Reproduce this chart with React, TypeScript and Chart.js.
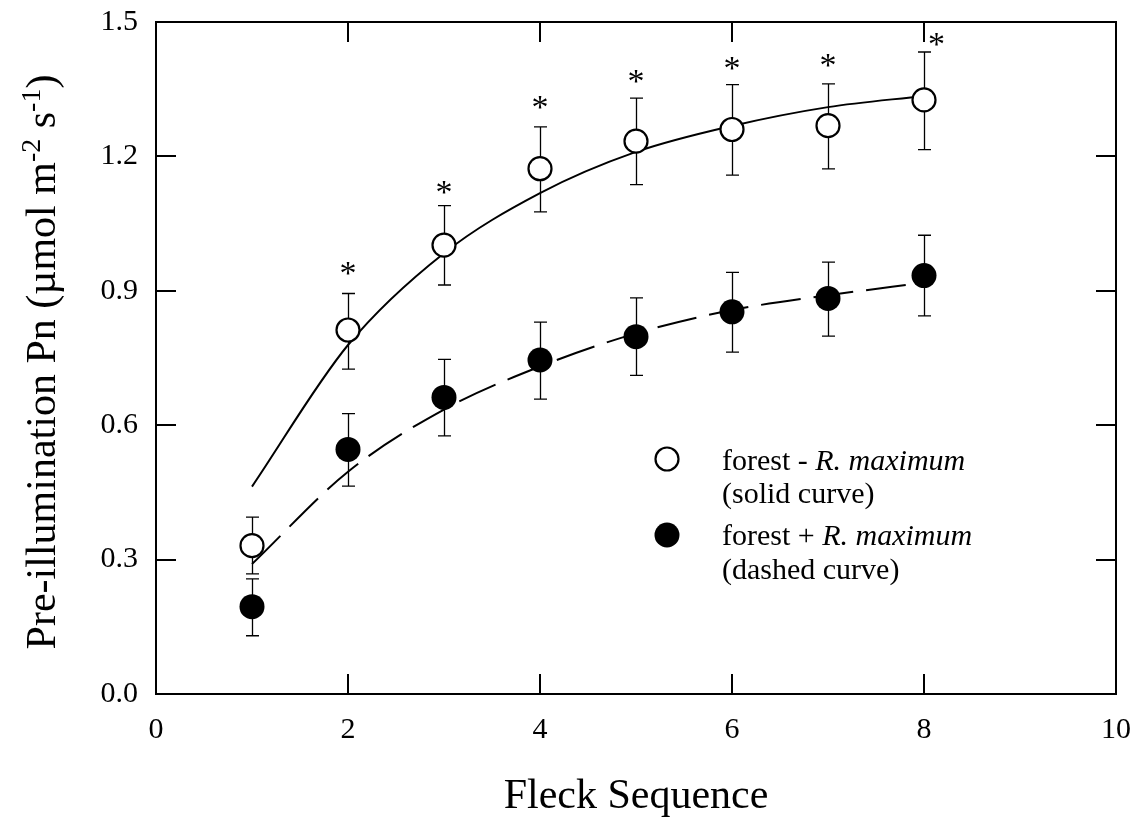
import React, { useEffect, useRef } from 'react';
import { Chart, registerables } from 'chart.js';

Chart.register(...registerables);

// ---- data ----
const fleck = [1, 2, 3, 4, 5, 6, 7, 8];

// forest - R. maximum (open circles)
const withoutR = [0.331, 0.8125, 1.002, 1.1725, 1.234, 1.26, 1.2685, 1.326];
const withoutRUpper = [0.395, 0.894, 1.09, 1.266, 1.33, 1.36, 1.362, 1.433];
const withoutRLower = [0.268, 0.725, 0.913, 1.076, 1.137, 1.158, 1.172, 1.215];

// forest + R. maximum (filled circles)
const withR = [0.195, 0.546, 0.662, 0.7455, 0.7976, 0.853, 0.883, 0.934];
const withRUpper = [0.257, 0.626, 0.747, 0.83, 0.884, 0.941, 0.964, 1.024];
const withRLower = [0.13, 0.464, 0.576, 0.658, 0.711, 0.763, 0.799, 0.844];

// fitted curves at each fleck
const solidCurve = [0.463, 0.779, 0.984, 1.118, 1.21, 1.268, 1.31, 1.335];
const dashedCurve = [0.29, 0.496, 0.635, 0.731, 0.805, 0.857, 0.89, 0.918];

// significance asterisks
const starX = [2, 3, 4, 5, 6, 7, 8.13];
const starY = [0.95, 1.132, 1.322, 1.379, 1.408, 1.415, 1.463];

// axis ticks
const xTicks = [0, 2, 4, 6, 8, 10];
const yTicks = [0, 0.3, 0.6, 0.9, 1.2, 1.5];

const FONT = "'Liberation Serif', 'Times New Roman', serif";

const zeroPad = (s: any) => {
  s.paddingTop = 0;
  s.paddingBottom = 0;
  s.paddingLeft = 0;
  s.paddingRight = 0;
};

const decor = {
  id: 'decor',
  beforeDatasetsDraw(chart: any) {
    const { ctx, scales } = chart;
    const xs = scales.x;
    const ys = scales.y;
    ctx.save();
    ctx.strokeStyle = '#000';
    ctx.lineWidth = 1.3;
    const bars = (vals: number[], lo: number[], hi: number[]) => {
      vals.forEach((_, i) => {
        const px = Math.round(xs.getPixelForValue(fleck[i])) + 0.5;
        const yTop = ys.getPixelForValue(hi[i]);
        const yBot = ys.getPixelForValue(lo[i]);
        ctx.beginPath();
        ctx.moveTo(px, yTop);
        ctx.lineTo(px, yBot);
        ctx.moveTo(px - 6.5, yTop);
        ctx.lineTo(px + 6.5, yTop);
        ctx.moveTo(px - 6.5, yBot);
        ctx.lineTo(px + 6.5, yBot);
        ctx.stroke();
      });
    };
    bars(withoutR, withoutRLower, withoutRUpper);
    bars(withR, withRLower, withRUpper);
    ctx.restore();
  },
  afterDraw(chart: any) {
    const { ctx, chartArea, scales } = chart;
    const xs = scales.x;
    const ys = scales.y;
    const { left, right, top, bottom } = chartArea;
    ctx.save();
    // frame
    ctx.strokeStyle = '#000';
    ctx.lineWidth = 2;
    ctx.strokeRect(left, top, right - left, bottom - top);
    // inward ticks on all four sides
    const TL = 20;
    ctx.beginPath();
    xTicks.slice(1, -1).forEach((v) => {
      const px = Math.round(xs.getPixelForValue(v));
      ctx.moveTo(px, bottom);
      ctx.lineTo(px, bottom - TL);
      ctx.moveTo(px, top);
      ctx.lineTo(px, top + TL);
    });
    yTicks.slice(1, -1).forEach((v) => {
      const py = Math.round(ys.getPixelForValue(v));
      ctx.moveTo(left, py);
      ctx.lineTo(left + TL, py);
      ctx.moveTo(right, py);
      ctx.lineTo(right - TL, py);
    });
    ctx.stroke();

    // asterisks
    ctx.fillStyle = '#000';
    ctx.font = `34px ${FONT}`;
    ctx.textAlign = 'center';
    ctx.textBaseline = 'alphabetic';
    starX.forEach((sx, i) => {
      const px = xs.getPixelForValue(sx);
      const py = ys.getPixelForValue(starY[i]);
      ctx.fillText('*', px, py + 16);
    });

    // x title
    ctx.font = `42px ${FONT}`;
    ctx.textAlign = 'center';
    ctx.fillText('Fleck Sequence', (left + right) / 2, 808);

    // y title with superscripts
    const big = `42px ${FONT}`;
    const small = `28px ${FONT}`;
    const parts: [string, boolean][] = [
      ['Pre-illumination Pn (\u00b5mol m', false],
      ['-2', true],
      [' s', false],
      ['-1', true],
      [')', false],
    ];
    let total = 0;
    const widths = parts.map(([t, sup]) => {
      ctx.font = sup ? small : big;
      const w = ctx.measureText(t).width;
      total += w;
      return w;
    });
    ctx.translate(55, 362);
    ctx.rotate(-Math.PI / 2);
    ctx.textAlign = 'left';
    let cx = -total / 2;
    parts.forEach(([t, sup], i) => {
      ctx.font = sup ? small : big;
      ctx.fillText(t, cx, sup ? -15 : 0);
      cx += widths[i];
    });
    ctx.setTransform(1, 0, 0, 1, 0, 0);

    // legend
    const mx = 667;
    const tx = 722;
    ctx.lineWidth = 2.2;
    ctx.beginPath();
    ctx.arc(mx, 459, 11.5, 0, Math.PI * 2);
    ctx.fillStyle = '#fff';
    ctx.fill();
    ctx.stroke();
    ctx.beginPath();
    ctx.arc(mx, 535, 12.5, 0, Math.PI * 2);
    ctx.fillStyle = '#000';
    ctx.fill();
    ctx.fillStyle = '#000';
    ctx.textAlign = 'left';
    const legendLine = (pre: string, y: number) => {
      ctx.font = `30px ${FONT}`;
      ctx.fillText(pre, tx, y);
      const w = ctx.measureText(pre).width;
      ctx.font = `italic 30px ${FONT}`;
      ctx.fillText('R. maximum', tx + w, y);
    };
    legendLine('forest - ', 470);
    ctx.font = `30px ${FONT}`;
    ctx.fillText('(solid curve)', tx, 503);
    legendLine('forest + ', 545);
    ctx.font = `30px ${FONT}`;
    ctx.fillText('(dashed curve)', tx, 579);
    ctx.restore();
  },
};

export default function App() {
  const ref = useRef<HTMLCanvasElement | null>(null);
  useEffect(() => {
    if (!ref.current) return;
    Chart.defaults.font.family = FONT;
    Chart.defaults.color = '#000';
    const chart = new Chart(ref.current, {
      type: 'scatter',
      data: {
        datasets: [
          {
            label: 'forest - R. maximum',
            data: fleck.map((x, i) => ({ x, y: withoutR[i] })),
            pointRadius: 11.5,
            pointBorderWidth: 2.2,
            pointBackgroundColor: '#fff',
            pointBorderColor: '#000',
            showLine: false,
          },
          {
            label: 'forest + R. maximum',
            data: fleck.map((x, i) => ({ x, y: withR[i] })),
            pointRadius: 12.5,
            pointBorderWidth: 0,
            pointBackgroundColor: '#000',
            pointBorderColor: '#000',
            showLine: false,
          },
          {
            label: 'solid curve',
            data: fleck.map((x, i) => ({ x, y: solidCurve[i] })),
            showLine: true,
            borderColor: '#000',
            borderWidth: 2,
            pointRadius: 0,
            cubicInterpolationMode: 'monotone',
          },
          {
            label: 'dashed curve',
            data: fleck.map((x, i) => ({ x, y: dashedCurve[i] })),
            showLine: true,
            borderColor: '#000',
            borderWidth: 2,
            borderDash: [40, 13],
            pointRadius: 0,
            cubicInterpolationMode: 'monotone',
          },
        ],
      },
      options: {
        animation: false,
        responsive: false,
        events: [],
        layout: { padding: { left: 0, right: 28, top: 22, bottom: 0 } },
        plugins: { legend: { display: false }, tooltip: { enabled: false } },
        scales: {
          x: {
            type: 'linear',
            min: 0,
            max: 10,
            afterFit: (s: any) => {
              s.height = 124;
              zeroPad(s);
            },
            afterBuildTicks: (s: any) => {
              s.ticks = xTicks.map((v) => ({ value: v }));
            },
            grid: { display: false, drawTicks: false },
            border: { display: false },
            ticks: { font: { size: 30 }, padding: 18, color: '#000', maxRotation: 0 },
          },
          y: {
            type: 'linear',
            min: 0,
            max: 1.5,
            afterFit: (s: any) => {
              s.width = 156;
              zeroPad(s);
            },
            afterBuildTicks: (s: any) => {
              s.ticks = yTicks.map((v) => ({ value: v }));
            },
            grid: { display: false, drawTicks: false },
            border: { display: false },
            ticks: {
              font: { size: 30 },
              padding: 18,
              color: '#000',
              callback: (v: any) => Number(v).toFixed(1),
            },
          },
        },
      },
      plugins: [decor],
    });
    return () => chart.destroy();
  }, []);
  return (
    <div style={{ position: 'absolute', left: 0, top: 0, width: 1144, height: 818, background: '#fff' }}>
      <canvas ref={ref} width={1144} height={818} style={{ display: 'block' }} />
    </div>
  );
}
